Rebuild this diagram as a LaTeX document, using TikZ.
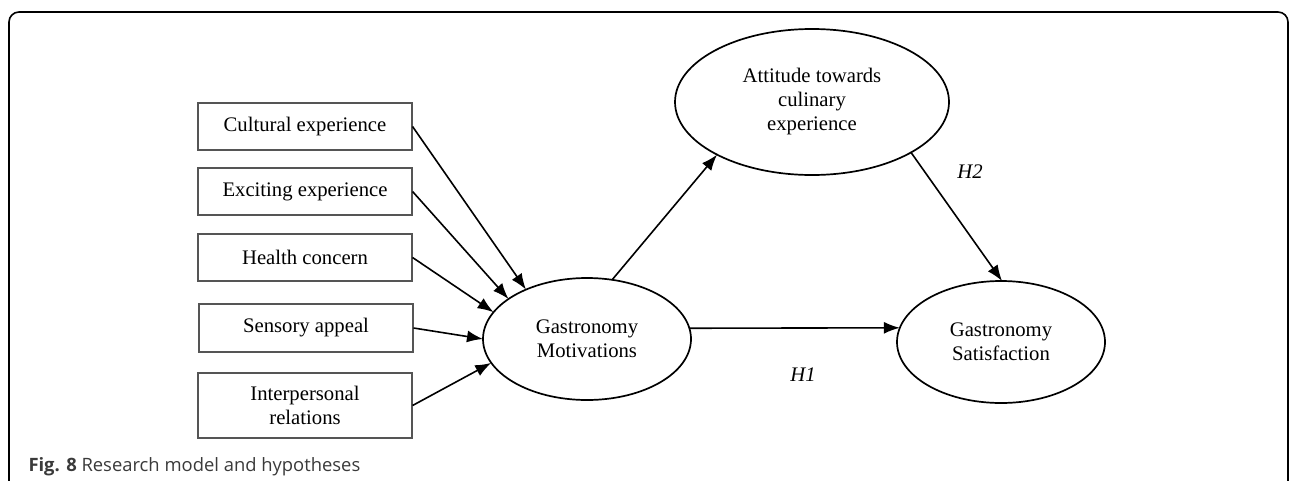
\documentclass[tikz,border=0pt]{standalone}
\usepackage{fontspec}
\setmainfont{Liberation Serif}
\newfontfamily\capfont{Open Sans}
\usetikzlibrary{arrows.meta,shapes.geometric,positioning}

\definecolor{boxgray}{HTML}{555555}
\definecolor{capgray}{HTML}{3A3A3A}

\tikzset{
  factor/.style={draw=boxgray,line width=1.1pt,minimum width=214pt,inner sep=0pt,
    align=center,font=\fontsize{20.7}{24}\selectfont},
  construct/.style={draw,ellipse,line width=1.7pt,inner sep=0pt,outer sep=0pt,
    align=center,font=\fontsize{20.7}{24}\selectfont},
  path/.style={line width=1.6pt,-{Latex[length=16pt,width=12pt]}},
  hyp/.style={font=\fontsize{20.7}{24}\selectfont\itshape}
}

\begin{document}
\begin{tikzpicture}[x=1pt,y=-1pt]
  \useasboundingbox (0,0) rectangle (1290,480);
  % frame
  \draw[line width=1.6pt,rounded corners=10pt] (9,490) -- (9,12) -- (1288,12) -- (1288,490);
  \node[anchor=base west,text=capgray,font=\capfont\fontsize{18.4}{22}\selectfont] (cap) at (25,471)
    {\textbf{Fig. 8} Research model and hypotheses};

  % motivation factors
  \node[factor,minimum height=47pt] (cult) at (305,126.5) {Cultural experience};
  \node[factor,minimum height=47pt] (exci) at (305,191.5) {Exciting experience};
  \node[factor,minimum height=47pt] (heal) at (305,257.5) {Health concern};
  \node[factor,minimum height=48pt] (sens) at (306,328) {Sensory appeal};
  \node[factor,minimum height=65pt] (inter) at (305,405.5) {Interpersonal\\relations};

  % constructs
  \node[construct,minimum width=208pt,minimum height=122pt] (mot) at (587,339) {Gastronomy\\Motivations};
  \node[construct,minimum width=274pt,minimum height=146pt] (att) at (812,102) {Attitude towards\\culinary\\experience};
  \node[construct,minimum width=208pt,minimum height=122pt] (sat) at (1001,342) {Gastronomy\\Satisfaction};

  \draw[path] (cult.east) -- (mot.141);
  \draw[path] (exci.east) -- (mot.153);
  \draw[path] (heal.east) -- (mot.164);
  \draw[path] (sens.east) -- (mot.180);
  \draw[path] (inter.east) -- (mot.194);

  \draw[path] (mot.67) -- (att.209);
  \draw[path] (mot.6.6) -- (sat.172);
  \draw[path] (att.333) -- (sat.89);

  \node[hyp] (h1) at (803,375) {H1};
  \node[hyp] (h2) at (970,172) {H2};
\end{tikzpicture}
\end{document}
